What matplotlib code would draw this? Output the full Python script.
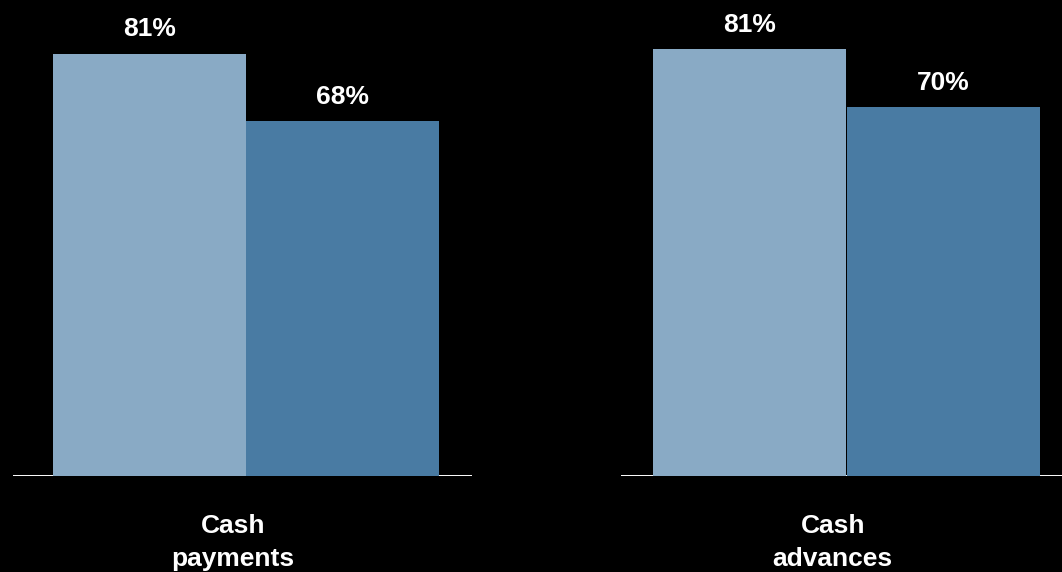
import matplotlib
matplotlib.use("Agg")
import matplotlib.pyplot as plt

plt.rcParams["font.family"] = ["Liberation Sans", "DejaVu Sans"]
plt.rcParams["font.weight"] = "bold"

PANELS = ["Cash\npayments", "Cash\nadvances"]
LIGHT_VALUES = [81, 81]
DARK_VALUES = [68, 70]

LIGHT = "#89AAC5"
DARK = "#497BA3"

fig = plt.figure(figsize=(10.62, 5.72), dpi=100, facecolor="black")

# axes placement in figure fractions: left, bottom, width, height
boxes = [(0.012, 0.168, 0.4325, 0.832), (0.5847, 0.168, 0.4153, 0.832)]
xlims = [(-0.709, 1.671), (-0.662, 1.611)]
ytops = [91.3, 90.4]
widths = [1.0, 0.995]

for i, name in enumerate(PANELS):
    ax = fig.add_axes(boxes[i])
    ax.set_facecolor("black")
    vals = [LIGHT_VALUES[i], DARK_VALUES[i]]
    bars = ax.bar([0, 1], vals, width=widths[i], color=[LIGHT, DARK], zorder=3)
    ax.axhline(0, color="white", linewidth=1.4, zorder=1)
    ax.set_xlim(*xlims[i])
    ax.set_ylim(0, ytops[i])
    for b, v in zip(bars, vals):
        ax.annotate(f"{v}%", (b.get_x() + b.get_width() / 2, v),
                    xytext=(0, 9), textcoords="offset points",
                    ha="center", va="bottom", color="white",
                    fontsize=19, fontweight="bold")
    ax.annotate(name, xy=(0.48, 0), xycoords="axes fraction",
                xytext=(0, -48), textcoords="offset points",
                ha="center", va="center", color="white",
                fontsize=19, fontweight="bold", linespacing=1.45)
    ax.set_xticks([])
    ax.set_yticks([])
    for s in ax.spines.values():
        s.set_visible(False)

fig.savefig("out.png", dpi=100, facecolor="black")
